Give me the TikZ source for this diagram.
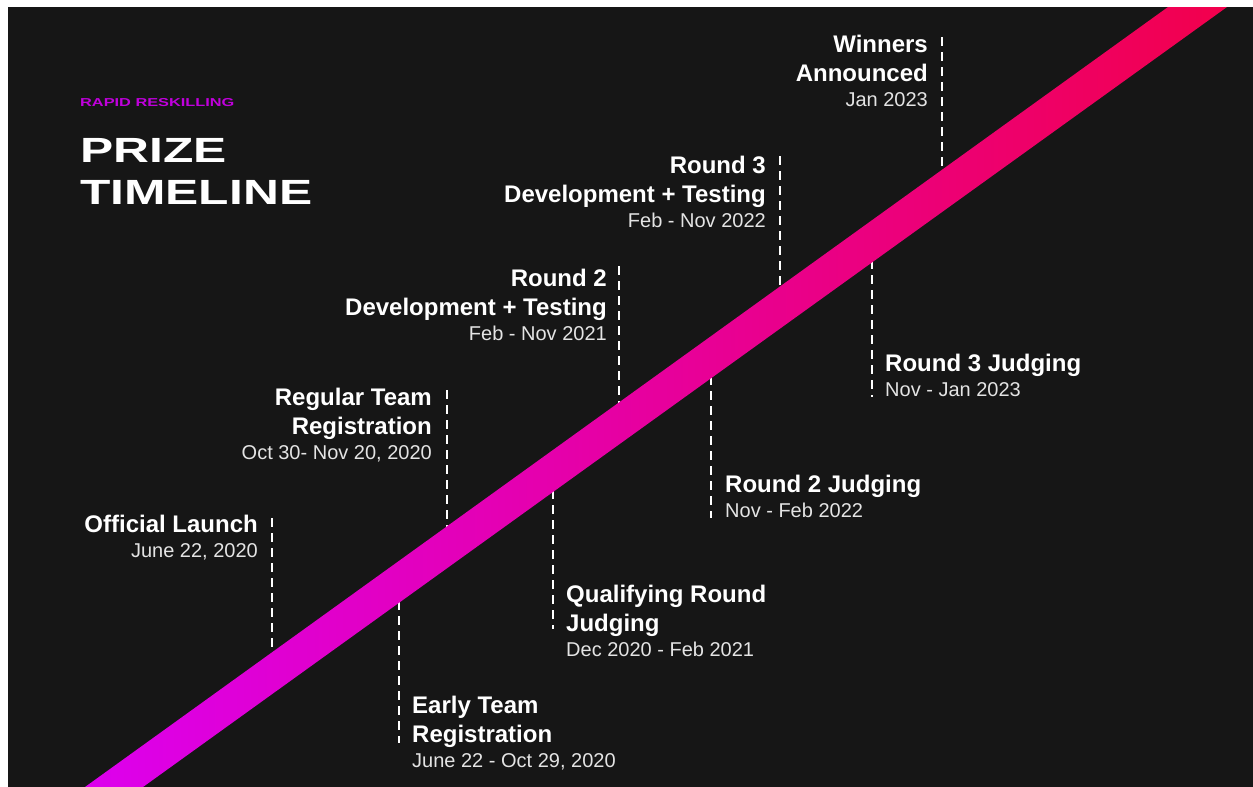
\documentclass[tikz,border=0pt]{standalone}
\usepackage{fontspec}
\setmainfont{Liberation Sans}
\newfontfamily\widefont[FakeStretch=1.42]{Liberation Sans}
\usepackage{xcolor}
\usetikzlibrary{positioning}
\definecolor{bg}{HTML}{161616}
\definecolor{bandstart}{HTML}{DC00EE}
\definecolor{bandmid}{HTML}{E600A6}
\definecolor{bandend}{HTML}{F2004C}
\definecolor{kickercol}{HTML}{C000DC}
\definecolor{datecol}{HTML}{E4E4E4}
\newcommand{\datetxt}{\mdseries\fontsize{20}{24}\selectfont\color{datecol}}

\begin{document}
\begin{tikzpicture}[
    x=1pt, y=-1pt,
    head/.style={
        text=white,
        inner sep=0pt,
        font=\bfseries\fontsize{24}{29}\selectfont
    },
    leftlabel/.style={head, align=right, anchor=north east},
    rightlabel/.style={head, align=left, anchor=north west},
    titlebox/.style={
        text=white,
        inner sep=0pt,
        align=left,
        anchor=north west,
        font=\widefont\bfseries\fontsize{35}{42}\selectfont
    },
    kicker/.style={
        text=kickercol,
        inner sep=0pt,
        font=\widefont\bfseries\fontsize{11.5}{13}\selectfont
    },
    tickline/.style={draw=white, line width=2.6pt, dash pattern=on 9pt off 6pt}
]

\fill[white] (0,0) rectangle (1253,787);
\fill[bg] (8,7) rectangle (1253,787);
\useasboundingbox (0,0) rectangle (1253,787);

\node[titlebox] (title) at (80,138) {PRIZE\\TIMELINE};
\node[kicker, above=31pt of title.north west, anchor=south west] (kicker) {RAPID RESKILLING};

\coordinate (launchTop) at (272,518);
\coordinate (launchFoot) at (272,658);
\coordinate (regularTop) at (447,390);
\coordinate (regularFoot) at (447,531);
\coordinate (rtwoDevTop) at (619,266);
\coordinate (rtwoDevFoot) at (619,407);
\coordinate (rthreeDevTop) at (780,156);
\coordinate (rthreeDevFoot) at (780,291);
\coordinate (winnersTop) at (942,37);
\coordinate (winnersFoot) at (942,175);
\coordinate (earlyFoot) at (399,601);
\coordinate (earlyEnd) at (399,743);
\coordinate (qualFoot) at (553,490);
\coordinate (qualEnd) at (553,629);
\coordinate (rtwoJudgeFoot) at (711,376);
\coordinate (rtwoJudgeEnd) at (711,518);
\coordinate (rthreeJudgeFoot) at (872,260);
\coordinate (rthreeJudgeEnd) at (872,397);

\draw[tickline] (launchTop) -- (launchFoot);
\draw[tickline] (regularTop) -- (regularFoot);
\draw[tickline] (rtwoDevTop) -- (rtwoDevFoot);
\draw[tickline] (rthreeDevTop) -- (rthreeDevFoot);
\draw[tickline] (winnersTop) -- (winnersFoot);
\draw[tickline] (earlyFoot) -- (earlyEnd);
\draw[tickline] (qualFoot) -- (qualEnd);
\draw[tickline] (rtwoJudgeFoot) -- (rtwoJudgeEnd);
\draw[tickline] (rthreeJudgeFoot) -- (rthreeJudgeEnd);

\coordinate (bandA) at (85,787);
\coordinate (bandB) at (143,787);
\coordinate (bandC) at (1227,7);
\coordinate (bandD) at (1168,7);
\shade[left color=bandstart, middle color=bandmid, right color=bandend]
    (bandA) -- (bandB) -- (bandC) -- (bandD) -- cycle;

\node[leftlabel] (launch) at (258,514.5) {Official Launch\\[-4pt]{\datetxt June 22, 2020}};
\node[leftlabel] (regular) at (432,387.5) {Regular Team\\Registration\\[-4pt]{\datetxt Oct 30- Nov 20, 2020}};
\node[leftlabel] (rtwoDev) at (607,268.5) {Round 2\\Development + Testing\\[-4pt]{\datetxt Feb - Nov 2021}};
\node[leftlabel] (rthreeDev) at (766,155.5) {Round 3\\Development + Testing\\[-4pt]{\datetxt Feb - Nov 2022}};
\node[leftlabel] (winners) at (928,34.5) {Winners\\Announced\\[-4pt]{\datetxt Jan 2023}};

\node[rightlabel] (early) at (412,695.5) {Early Team\\Registration\\[-4pt]{\datetxt June 22 - Oct 29, 2020}};
\node[rightlabel] (qual) at (566,584.5) {Qualifying Round\\Judging\\[-4pt]{\datetxt Dec 2020 - Feb 2021}};
\node[rightlabel] (rtwoJudge) at (725,474.5) {Round 2 Judging\\[-4pt]{\datetxt Nov - Feb 2022}};
\node[rightlabel] (rthreeJudge) at (885,353.5) {Round 3 Judging\\[-4pt]{\datetxt Nov - Jan 2023}};

\end{tikzpicture}
\end{document}
